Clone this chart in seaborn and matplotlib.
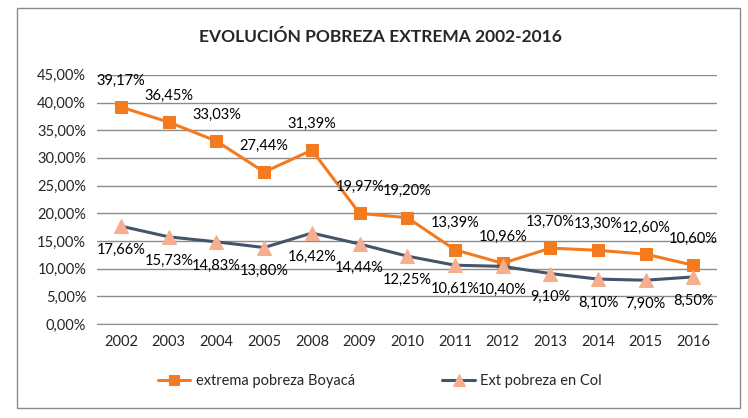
import numpy as np
import pandas as pd
import matplotlib
matplotlib.use("Agg")
import matplotlib.pyplot as plt
import seaborn as sns
from matplotlib.patches import Rectangle
from matplotlib.ticker import FuncFormatter

years = ["2002", "2003", "2004", "2005", "2008", "2009", "2010",
         "2011", "2012", "2013", "2014", "2015", "2016"]
boyaca = [39.17, 36.45, 33.03, 27.44, 31.39, 19.97, 19.20,
          13.39, 10.96, 13.70, 13.30, 12.60, 10.60]
colombia = [17.66, 15.73, 14.83, 13.80, 16.42, 14.44, 12.25,
            10.61, 10.40, 9.10, 8.10, 7.90, 8.50]
y_ticks = [0, 5, 10, 15, 20, 25, 30, 35, 40, 45]

sns.set_style("white")
plt.rcParams["font.family"] = ["Lato", "DejaVu Sans"]

df = pd.DataFrame({"year": years, "boyaca": boyaca, "col": colombia})

fig = plt.figure(figsize=(7.48, 4.18), dpi=100)
ax = fig.add_axes([0.130, 0.225, 0.829, 0.596])

orange = "#F47A1F"
slate = "#44546A"
salmon = "#F6AE8F"

sns.lineplot(data=df, x="year", y="boyaca", ax=ax, color=orange,
             linewidth=2.2, marker="s", markersize=9,
             markeredgecolor=orange, markerfacecolor=orange,
             label="extrema pobreza Boyacá", sort=False)
sns.lineplot(data=df, x="year", y="col", ax=ax, color=slate,
             linewidth=2.2, marker="^", markersize=10,
             markeredgecolor=salmon, markerfacecolor=salmon,
             label="Ext pobreza en Col", sort=False)

def pct(v):
    return f"{v:.2f}".replace(".", ",") + "%"

for i, v in enumerate(boyaca):
    ax.annotate(pct(v), (i, v), xytext=(0, 14), textcoords="offset points",
                ha="center", va="bottom", fontsize=10.5, color="black")
for i, v in enumerate(colombia):
    ax.annotate(pct(v), (i, v), xytext=(0, -12), textcoords="offset points",
                ha="center", va="top", fontsize=10.5, color="black")

ax.set_xlim(-0.5, len(years) - 0.5)
ax.set_ylim(0, 45)
ax.set_yticks(y_ticks)
ax.yaxis.set_major_formatter(FuncFormatter(lambda v, p: f"{v:.2f}".replace(".", ",") + "%"))
ax.grid(axis="y", color="#8C8C8C", linewidth=1)
ax.set_axisbelow(True)
ax.set_xlabel("")
ax.set_ylabel("")
for s in ["top", "right", "left"]:
    ax.spines[s].set_visible(False)
ax.spines["bottom"].set_color("#8C8C8C")
ax.tick_params(axis="both", labelsize=10.5, length=0, pad=8)
ax.set_xticks(np.arange(-0.5, len(years), 1), minor=True)
ax.tick_params(axis="x", which="minor", length=5, color="#8C8C8C", direction="out")

fig.suptitle("EVOLUCIÓN POBREZA EXTREMA 2002-2016", x=0.508, y=0.93,
             fontsize=12.5, fontweight="bold")

ax.legend(loc="center", bbox_to_anchor=(0.508, 0.088), bbox_transform=fig.transFigure,
          ncol=2, frameon=False, fontsize=10.5, columnspacing=6, handlelength=2.2,
          markerscale=0.8, handletextpad=0.4)

fig.patches.append(Rectangle((17 / 748, 1 - 408 / 418), 723 / 748, 400 / 418,
                             transform=fig.transFigure, fill=False,
                             edgecolor="#8C8C8C", linewidth=1))

fig.savefig("out.png", dpi=100)
